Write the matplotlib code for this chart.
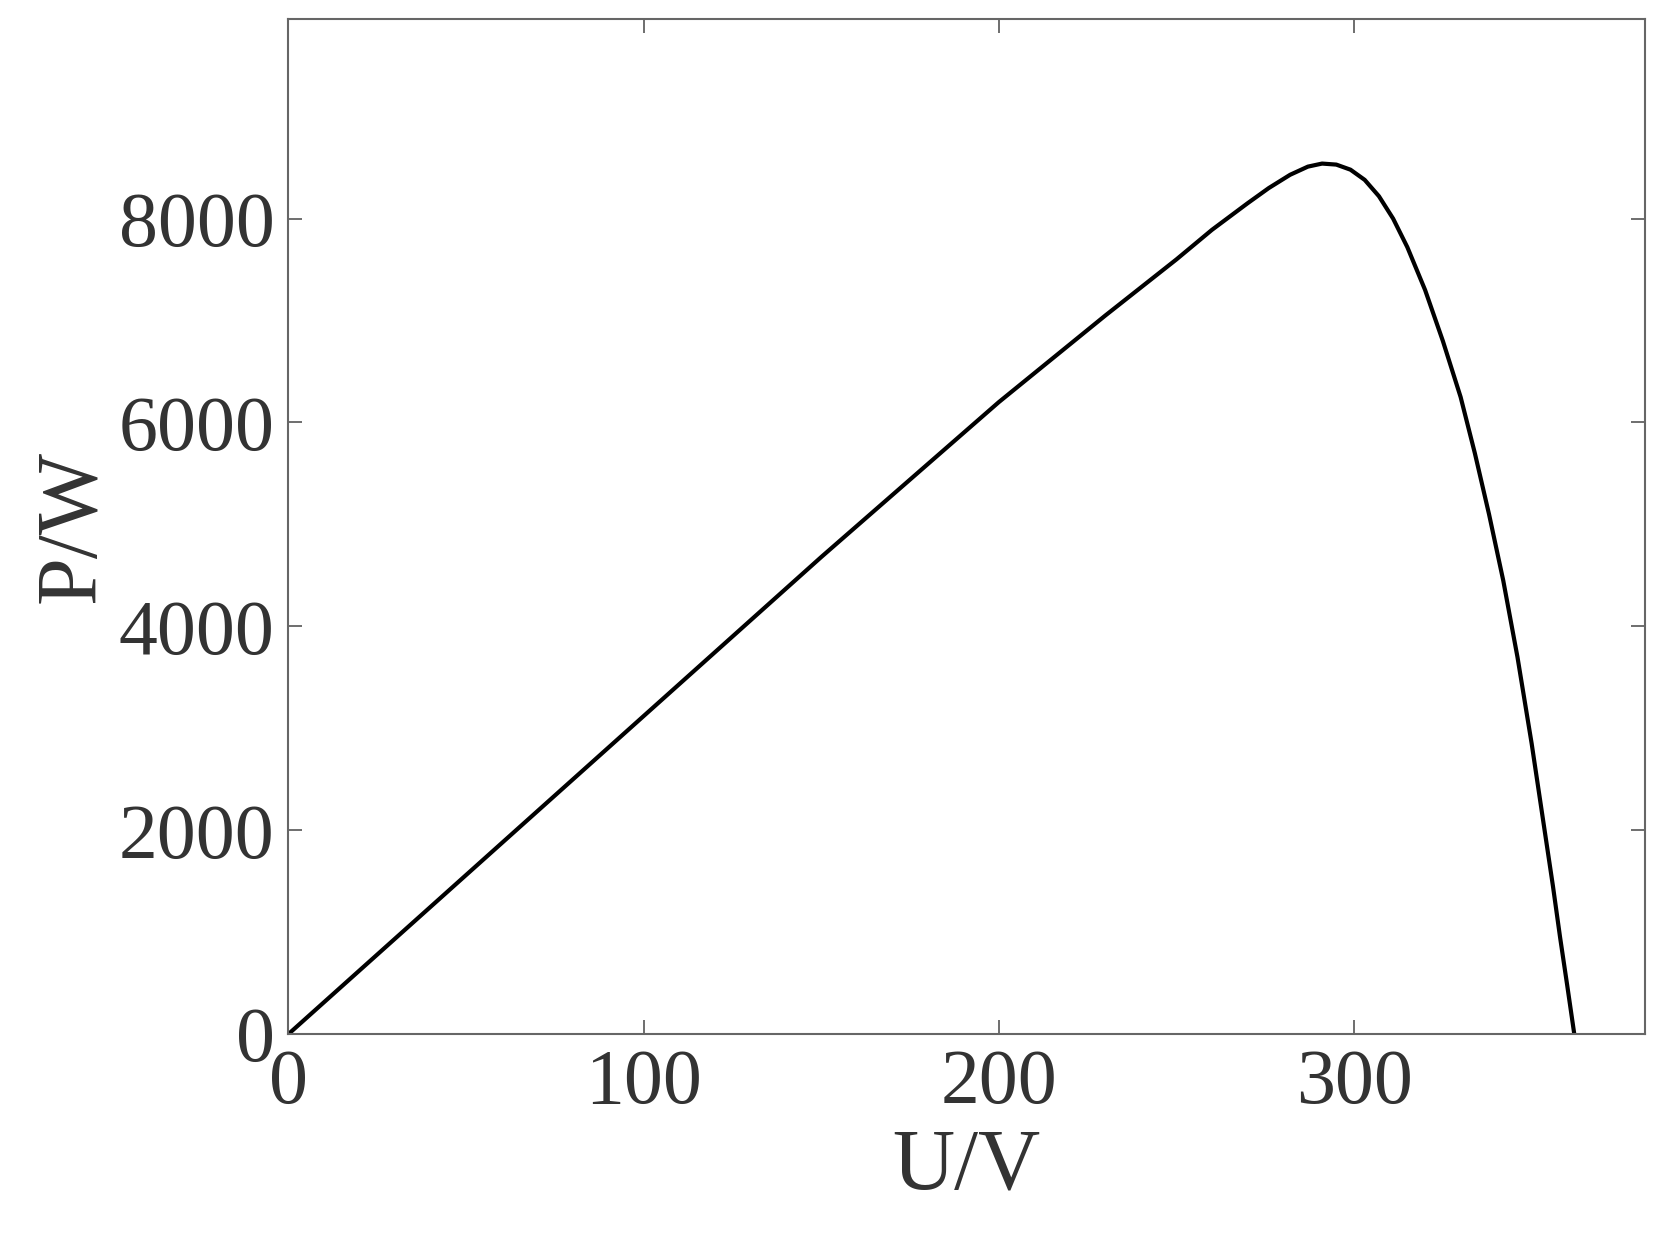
import numpy as np
import matplotlib.pyplot as plt

# P-U curve
u_volts = [0, 50, 100, 150, 200, 230, 250, 260, 270, 276, 282, 287, 291,
           295, 299, 303, 307, 311, 315, 320, 325, 330, 334, 338, 342, 346,
           350, 353, 356, 358, 360, 362]
p_watts = [0, 1560, 3120, 4680, 6200, 7050, 7600, 7890, 8150, 8300, 8430,
           8510, 8540, 8530, 8480, 8380, 8220, 8000, 7720, 7300, 6800, 6250,
           5700, 5100, 4450, 3700, 2850, 2150, 1450, 950, 480, 0]

x_ticks = [0, 100, 200, 300]
y_ticks = [0, 2000, 4000, 6000, 8000]

plt.rcParams['font.family'] = ['Liberation Serif', 'DejaVu Serif']

fig = plt.figure(figsize=(16.67, 12.55), dpi=100)
ax = fig.add_axes([0.173, 0.176, 0.814, 0.809])
ax.plot(u_volts, p_watts, color='black', lw=3)

ax.set_xlim(0, 382)
ax.set_ylim(0, 9960)
ax.set_xticks(x_ticks)
ax.set_yticks(y_ticks)
ax.tick_params(direction='in', length=10, width=1.2, top=True, right=True,
               labelsize=56, labelcolor='#333333', color='#555555', pad=10)
for s in ax.spines.values():
    s.set_color('#666666')
    s.set_linewidth(1.5)

ax.set_xlabel('U/V', fontsize=62, color='#333333', labelpad=6)
ax.set_ylabel('P/W', fontsize=62, color='#333333', labelpad=4)

fig.savefig('out.png', dpi=100)
